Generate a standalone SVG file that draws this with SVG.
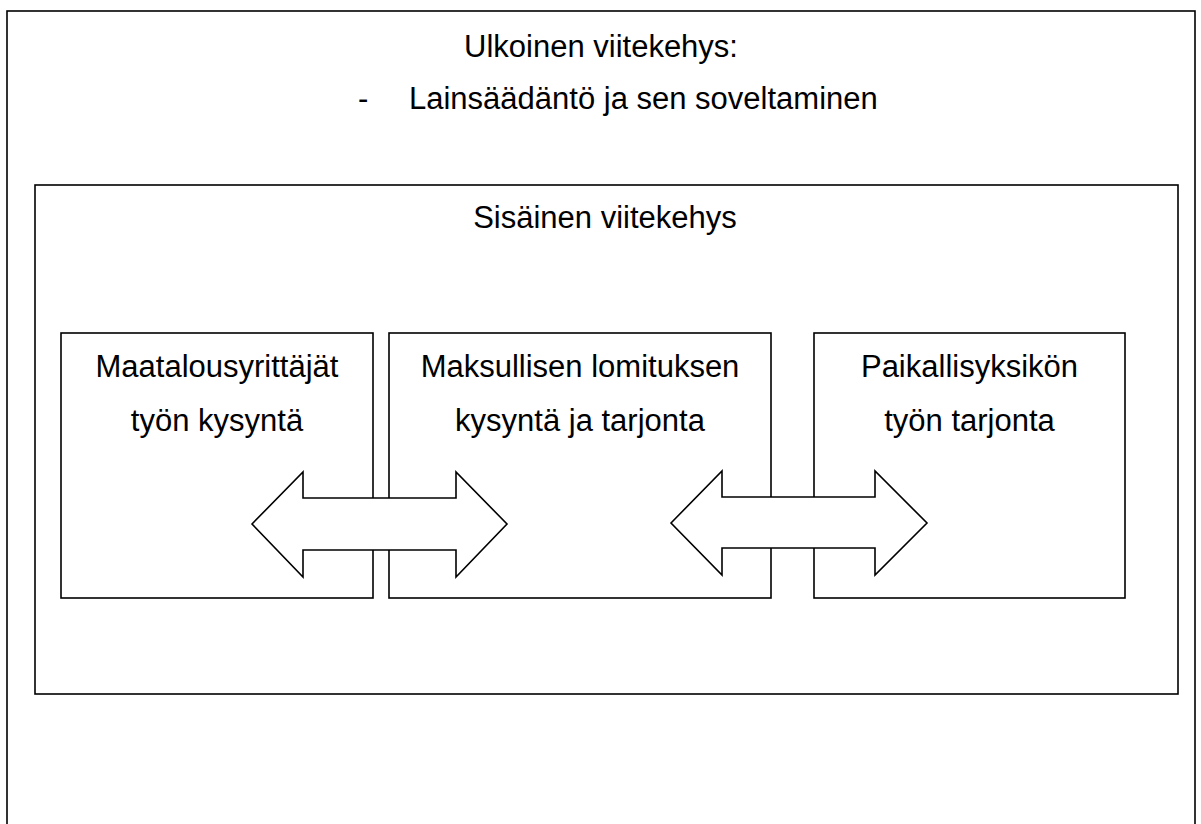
<svg xmlns="http://www.w3.org/2000/svg" width="1201" height="824" viewBox="0 0 1201 824">
<style>
.frame{fill:#fff;stroke:#000;stroke-width:1.6}
.box{fill:#fff;stroke:#000;stroke-width:1.6}
.arrow{fill:#fff;stroke:#000;stroke-width:1.6;stroke-linejoin:miter}
text{font-family:"Liberation Sans",Arial,sans-serif;font-size:31px;fill:#000}
.c{text-anchor:middle}
</style>
<rect width="1201" height="824" fill="#fff"/>
<g id="outer-frame">
<rect class="frame" x="7" y="11" width="1188" height="830"/>
<text class="c" x="601" y="57">Ulkoinen viitekehys:</text>
<text x="358" y="109">-</text>
<text x="409" y="109">Lainsäädäntö ja sen soveltaminen</text>
</g>
<g id="inner-frame">
<rect class="frame" x="35" y="185" width="1143" height="509"/>
<text class="c" x="605" y="228">Sisäinen viitekehys</text>
</g>
<g id="node-maatalous">
<rect class="box" x="61" y="333" width="312" height="265"/>
<text class="c" x="217" y="377">Maatalousyrittäjät</text>
<text class="c" x="217" y="431">työn kysyntä</text>
</g>
<g id="node-maksullinen">
<rect class="box" x="389" y="333" width="382" height="265"/>
<text class="c" x="580" y="377">Maksullisen lomituksen</text>
<text class="c" x="580" y="431">kysyntä ja tarjonta</text>
</g>
<g id="node-paikallis">
<rect class="box" x="814" y="333" width="311" height="265"/>
<text class="c" x="969.5" y="377">Paikallisyksikön</text>
<text class="c" x="969.5" y="431">työn tarjonta</text>
</g>
<g id="connectors">
<polygon class="arrow" points="252,524 303,472 303,498 456,498 456,472 507,524 456,577 456,550 303,550 303,577"/>
<polygon class="arrow" points="671,523 722,471 722,497 875,497 875,471 927,523 875,575 875,548 722,548 722,575"/>
</g>
</svg>
